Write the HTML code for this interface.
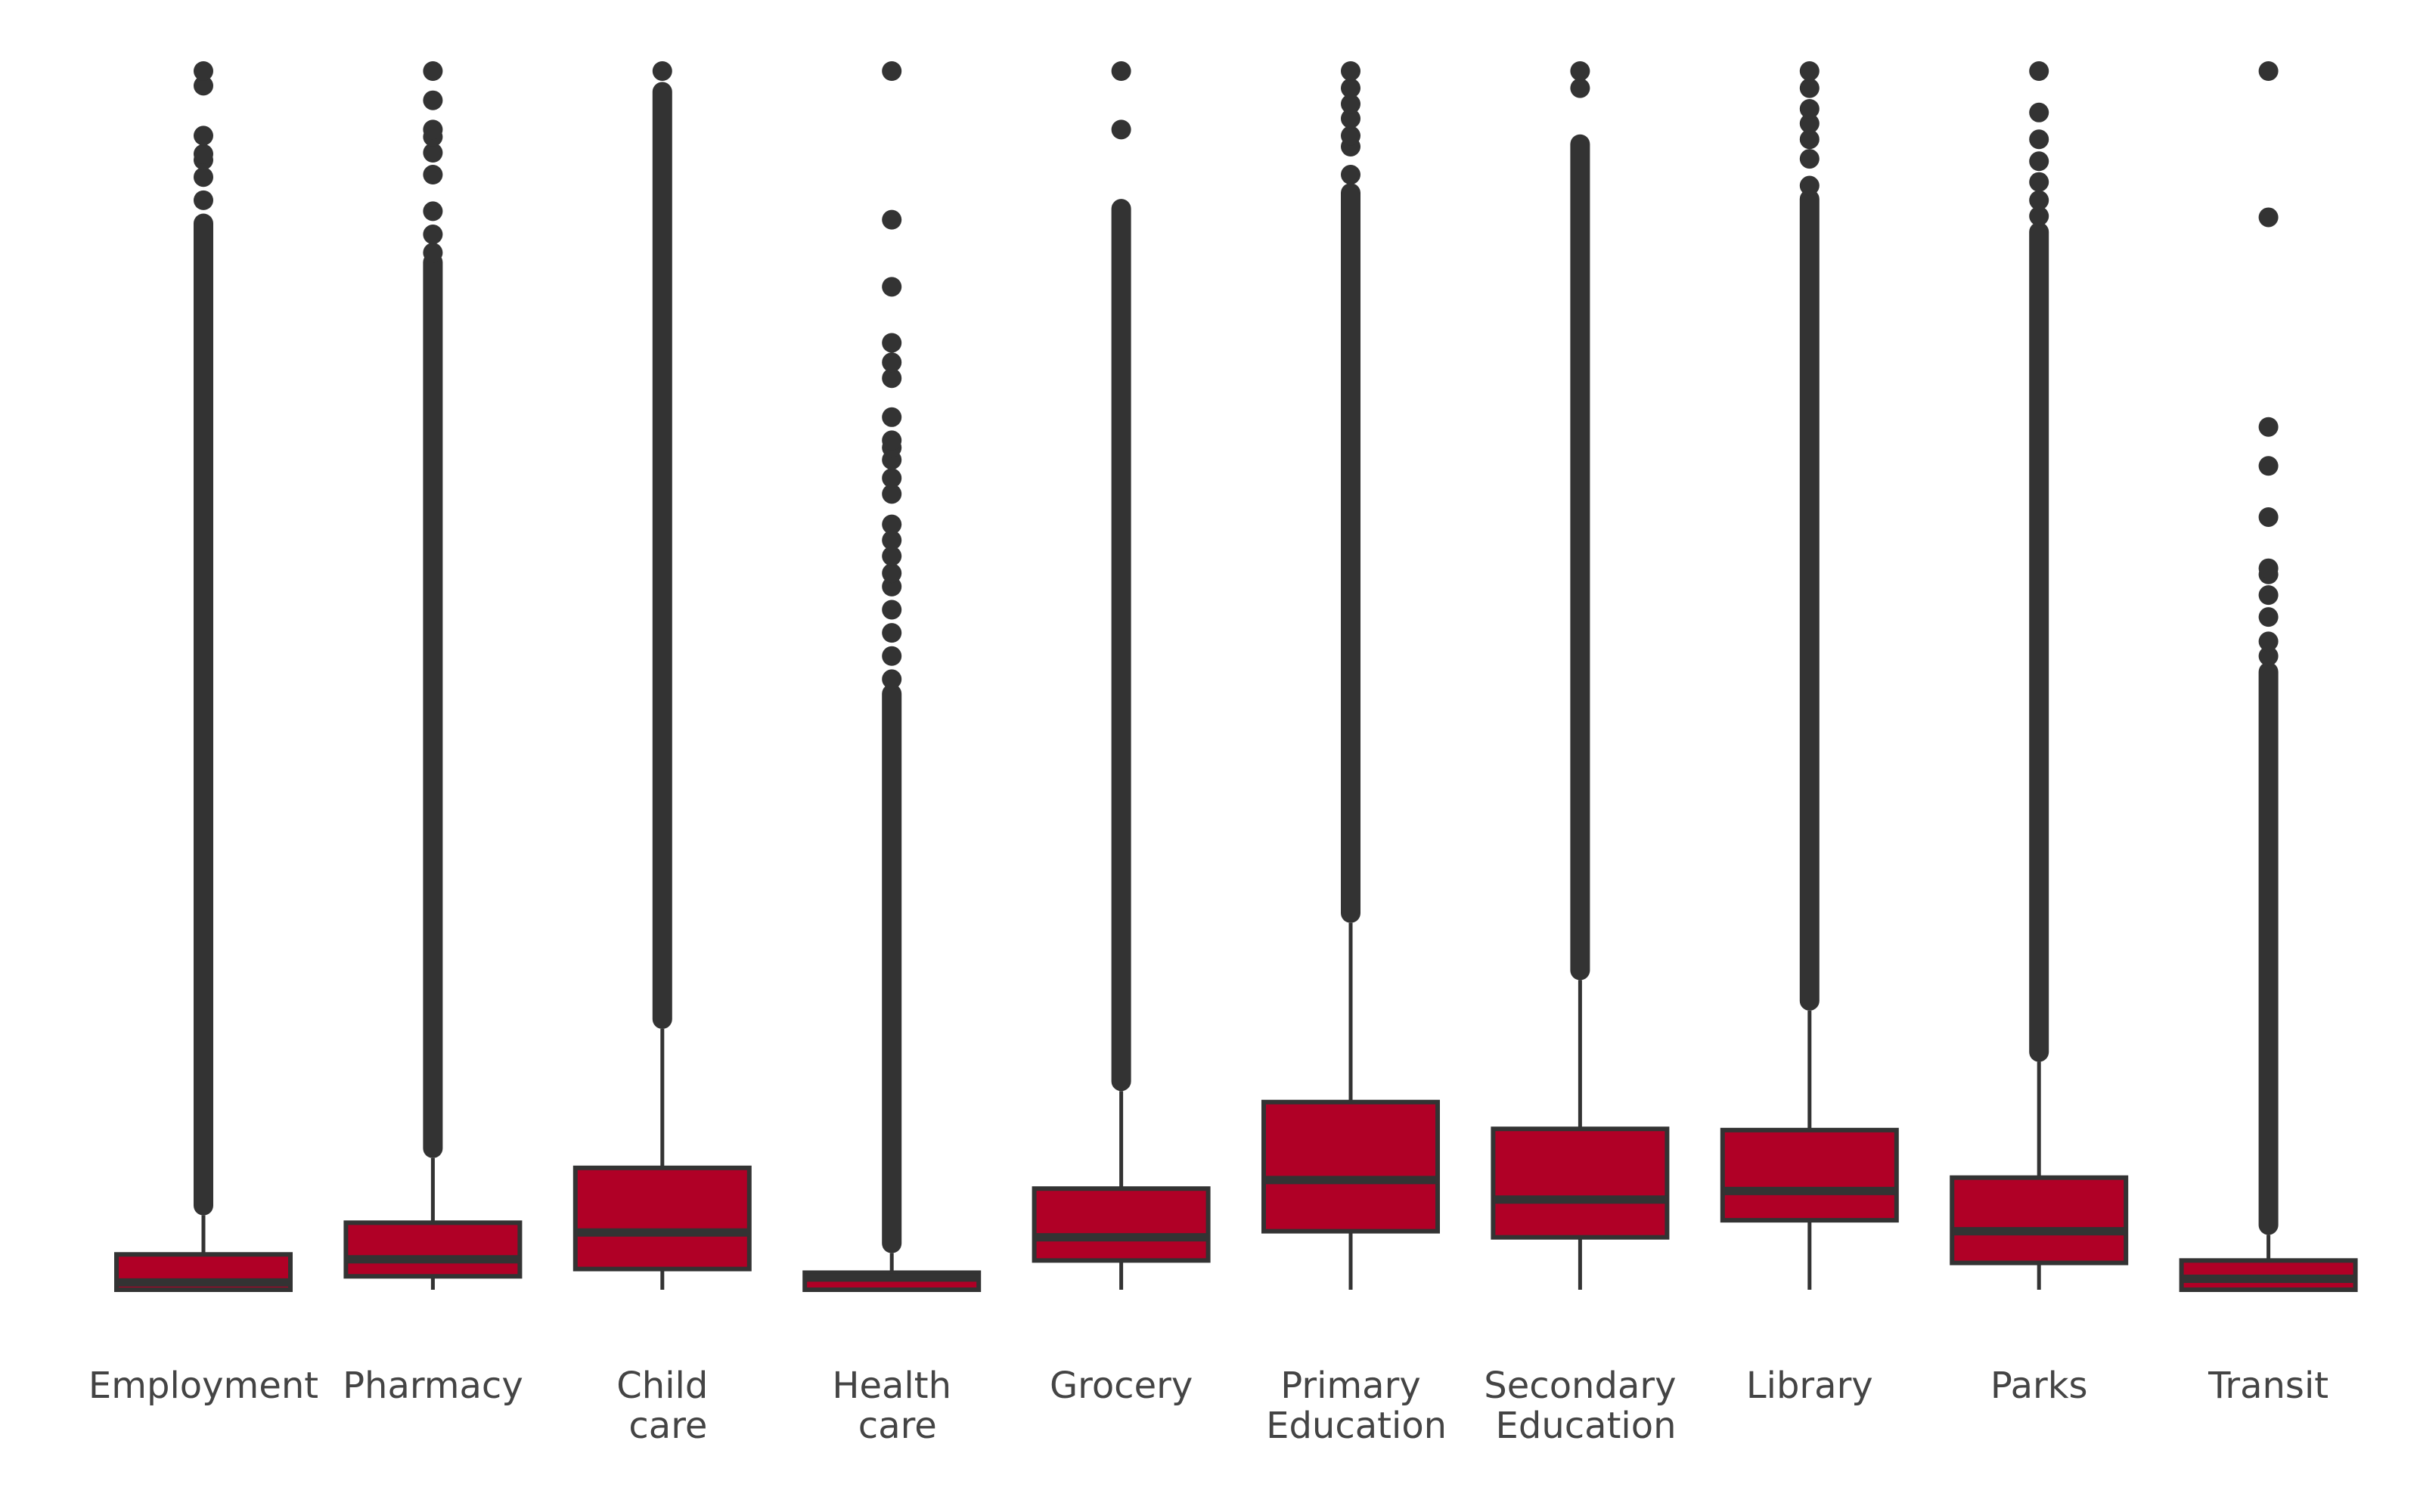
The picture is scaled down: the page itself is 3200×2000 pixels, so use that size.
<!DOCTYPE html>
<html><head><meta charset="utf-8"><style>
html,body{margin:0;padding:0;background:#fff;}
svg{display:block;}
</style></head><body>
<svg id="chart" width="3200" height="2000" xmlns="http://www.w3.org/2000/svg"></svg>
<script>
const categories = ["Employment","Pharmacy","Child\n care","Health\n care","Grocery","Primary\n Education","Secondary\n Education","Library","Parks","Transit"];
const q1Values = [0, 1.1, 1.7, 0, 2.4, 4.8, 4.3, 5.7, 2.2, 0];
const medianValues = [0.6, 2.5, 4.7, 1.0, 4.3, 9.0, 7.4, 8.1, 4.8, 0.9];
const q3Values = [2.9, 5.5, 10.0, 1.4, 8.3, 15.4, 13.2, 13.1, 9.2, 2.4];
const whiskerLow = [0, 0, 0, 0, 0, 0, 0, 0, 0, 0];
const whiskerHigh = [6.1, 10.8, 21.4, 3.0, 16.3, 30.1, 25.4, 22.9, 18.7, 4.5];
const denseOutlierTop = [87.5, 84.3, 98.3, 48.9, 88.7, 90.0, 94.0, 89.5, 86.8, 50.7];
const sparseOutliers = [
  [89.4, 91.3, 92.7, 93.2, 94.7, 98.8, 100],
  [85.1, 86.6, 88.5, 91.5, 93.3, 94.6, 95.2, 97.6, 100],
  [100],
  [50.1, 52.0, 53.9, 55.8, 57.7, 58.8, 60.2, 61.5, 62.8, 65.3, 66.6, 68.1, 69.1, 69.7, 71.6, 74.8, 76.1, 77.7, 82.3, 87.8, 100],
  [95.2, 100],
  [91.5, 93.8, 94.7, 96.1, 97.3, 98.6, 100],
  [98.6, 100],
  [90.6, 92.8, 94.4, 95.7, 96.9, 98.6, 100],
  [88.1, 89.4, 90.9, 92.6, 94.4, 96.6, 100],
  [52.0, 53.2, 55.2, 57.0, 58.7, 59.2, 63.4, 67.6, 70.8, 88.0, 100]
];

const NS = "http://www.w3.org/2000/svg";
const svg = document.getElementById("chart");
const y0 = 1706, yTop = 94, vMax = 100;
function yScale(v){ return y0 - v * (y0 - yTop) / vMax; }
function xScale(i){ return 269 + i * 303.4; }
const DARK = "#333333", FILL = "#b00026", HALF = 115;

function mk(tag, attrs){
  const e = document.createElementNS(NS, tag);
  for (const k in attrs) e.setAttribute(k, attrs[k]);
  svg.appendChild(e);
  return e;
}

categories.forEach((cat, i) => {
  const cx = xScale(i);
  const wl = mk("line", {x1:cx, x2:cx, y1:yScale(q1Values[i]), y2:yScale(whiskerLow[i]), stroke:DARK, "stroke-width":5});
  
  
  const wh = mk("line", {x1:cx, x2:cx, y1:yScale(q3Values[i]), y2:yScale(whiskerHigh[i]), stroke:DARK, "stroke-width":5});
  
  
  const bandLo = yScale(whiskerHigh[i]) - 13;
  const bandHi = yScale(denseOutlierTop[i]);
  const band = mk("line", {x1:cx, x2:cx, y1:bandLo, y2:bandHi, stroke:DARK, "stroke-width":26, "stroke-linecap":"round"});
  
  
  sparseOutliers[i].forEach(v => {
    const c = mk("circle", {cx:cx, cy:yScale(v), r:13, fill:DARK});
    
    
  });
  const yt = yScale(q3Values[i]), yb = yScale(q1Values[i]);
  const box = mk("rect", {x:cx-HALF, y:yt, width:HALF*2, height:Math.max(yb-yt,1), fill:FILL, stroke:DARK, "stroke-width":6});
  
  
  const med = mk("line", {x1:cx-HALF, x2:cx+HALF, y1:yScale(medianValues[i]), y2:yScale(medianValues[i]), stroke:DARK, "stroke-width":11});
  
  
  const t = mk("text", {x:cx, y:1849, "text-anchor":"middle", fill:"#444444", "font-family":"'DejaVu Sans','Liberation Sans',sans-serif", "font-size":48});
  
  
  cat.split("\n").forEach((ln, k) => {
    const ts = document.createElementNS(NS, "tspan");
    ts.setAttribute("x", cx);
    ts.setAttribute("y", 1849 + k * 53);
    ts.textContent = ln.replace(/^ /, "\u00a0");
    t.appendChild(ts);
  });
});
</script>
</body></html>
